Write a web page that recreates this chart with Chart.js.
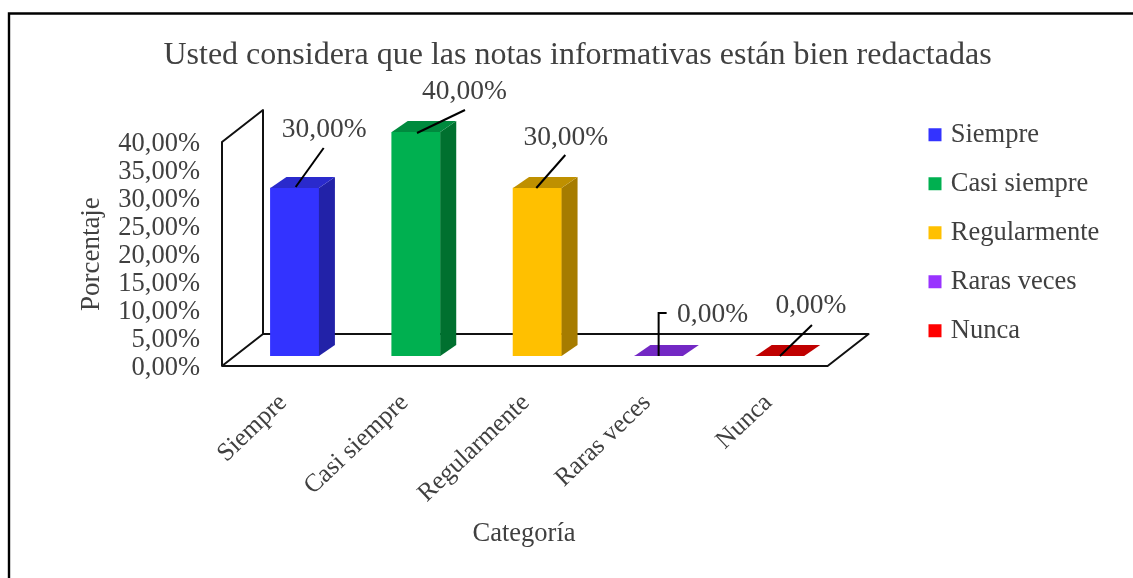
<!DOCTYPE html>
<html><head><meta charset="utf-8">
<style>html,body{margin:0;padding:0;background:#fff}canvas{display:block;filter:blur(0.35px)}</style>
<script src="https://cdn.jsdelivr.net/npm/chart.js@4"></script></head>
<body><div style="width:1133px;height:578px"><canvas id="c" width="1133" height="578"></canvas></div>
<script>
const titleText = 'Usted considera que las notas informativas están bien redactadas';
const categories = ['Siempre','Casi siempre','Regularmente','Raras veces','Nunca'];
const values = [30,40,30,0,0];
const yTicks = [0,5,10,15,20,25,30,35,40];
const frontColors = ['#3333FF','#00B050','#FFC000','#9933FF','#FF0000'];
const sideColors = ['#2222A8','#00702F','#A67C00','#6B24B2','#B00000'];
const topColors = ['#2A2ACC','#008A3E','#BF9000','#7328C4','#C00000'];
const yTitle = 'Porcentaje';
const xTitle = 'Categoría';
const FONT = "'Liberation Serif'";
const INK = '#404040';
const fmt = v => v.toFixed(2).replace('.',',') + '%';

const DX = 16, DY = 11;
// label anchor offsets relative to the bar's top-centre
const leaders = [
  {pts:[[1,-1],[29,-40]], label:[29.5,-58]},
  {pts:[[1,1],[49,-22]], label:[48.5,-40]},
  {pts:[[-1,0],[28,-33]], label:[28.5,-50]},
  {pts:[[0,0],[0,-43],[8,-43]], label:[54,-41]},
  {pts:[[0,0],[32,-31]], label:[31,-50]}
];

const scene = {
  id:'scene',
  afterLayout(chart){
    const lg = chart.legend;
    lg.left = 910; lg.right = 1133; lg.top = 99;
    const t = chart.titleBlock;
    t.left += 39;
  },
  beforeDatasetsDraw(chart){
    const {ctx, chartArea:a, scales:{y}} = chart;
    const b = y.getPixelForValue(0), t = y.getPixelForValue(40);
    ctx.save();
    // outer frame
    ctx.strokeStyle='#000'; ctx.lineWidth=2.4;
    ctx.beginPath(); ctx.moveTo(9,580); ctx.lineTo(9,13.5); ctx.lineTo(1135,13.5); ctx.stroke();
    // floor and wall
    ctx.lineWidth=2; ctx.strokeStyle='#111'; ctx.lineJoin='round';
    const fl=a.left-12, fr=a.right-13, bl=a.left+29, br=a.right+28;
    const fy=b+10, by=b-22;
    ctx.beginPath();
    ctx.moveTo(fl,fy);ctx.lineTo(fr,fy);ctx.lineTo(br,by);ctx.lineTo(bl,by);ctx.closePath();
    ctx.moveTo(fl,fy);ctx.lineTo(fl,t+10);ctx.lineTo(bl,t-22);ctx.lineTo(bl,by);
    ctx.stroke();
    ctx.restore();
  },
  afterDatasetsDraw(chart){
    const {ctx} = chart;
    const bars = chart.getDatasetMeta(0).data;
    ctx.save();
    bars.forEach((el,i)=>{
      const l=el.x-el.width/2, r=el.x+el.width/2, t=el.y, bs=el.base;
      if(bs-t>0.5){
        ctx.fillStyle=sideColors[i];
        ctx.beginPath();ctx.moveTo(r,t);ctx.lineTo(r+DX,t-DY);ctx.lineTo(r+DX,bs-DY);ctx.lineTo(r,bs);ctx.closePath();ctx.fill();
      }
      ctx.fillStyle=topColors[i];
      ctx.beginPath();ctx.moveTo(l,t);ctx.lineTo(l+DX,t-DY);ctx.lineTo(r+DX,t-DY);ctx.lineTo(r,t);ctx.closePath();ctx.fill();
    });
    bars.forEach((el,i)=>{
      const L=leaders[i];
      ctx.strokeStyle='#000';ctx.lineWidth=2;
      ctx.beginPath();
      L.pts.forEach((p,k)=>{const x=el.x+p[0],y=el.y+p[1]; k?ctx.lineTo(x,y):ctx.moveTo(x,y);});
      ctx.stroke();
      ctx.fillStyle=INK;ctx.font='27.5px '+FONT;ctx.textAlign='center';ctx.textBaseline='middle';
      ctx.fillText(fmt(values[i]),el.x+L.label[0],el.y+L.label[1]);
    });
    ctx.restore();
  }
};

new Chart(document.getElementById('c'),{
  type:'bar',
  data:{labels:categories,datasets:[{data:values,backgroundColor:frontColors,borderWidth:0,barThickness:48.5}]},
  plugins:[scene],
  options:{
    responsive:false,animation:false,
    layout:{padding:{left:76,right:93,top:0,bottom:28}},
    plugins:{
      tooltip:{enabled:false},
      title:{display:true,text:titleText,color:INK,font:{family:FONT,size:32,weight:'normal',lineHeight:1.2},padding:{top:36.8,bottom:56.8}},
      legend:{display:true,position:'right',align:'start',
        labels:{font:{family:FONT,size:26.5},color:INK,boxWidth:5,boxHeight:5,padding:22.5,
          generateLabels:()=>categories.map((c,i)=>({text:c,fillStyle:frontColors[i],strokeStyle:frontColors[i],fontColor:INK,lineWidth:8,hidden:false,index:i}))}}
    },
    scales:{
      x:{grid:{display:false},border:{display:false},
        ticks:{autoSkip:false,minRotation:43.5,maxRotation:43.5,padding:24,labelOffset:-11.5,color:INK,font:{family:FONT,size:25.5}},
        title:{display:true,text:xTitle+'\u00A0\u00A0\u00A0\u00A0',color:INK,font:{family:FONT,size:26.5},padding:0},
        afterFit(s){s.height=194;}},
      y:{min:0,max:40,grid:{display:false},border:{display:false},
        afterBuildTicks(s){s.ticks=yTicks.map(v=>({value:v}));},
        ticks:{autoSkip:false,padding:26,labelOffset:12,color:INK,font:{family:FONT,size:26.5,lineHeight:1},callback:v=>fmt(v)},
        title:{display:true,text:yTitle+'\u00A0\u00A0\u00A0',color:INK,font:{family:FONT,size:27},padding:0},
        afterFit(s){s.width=158;}}
    }
  }
});
</script></body></html>
